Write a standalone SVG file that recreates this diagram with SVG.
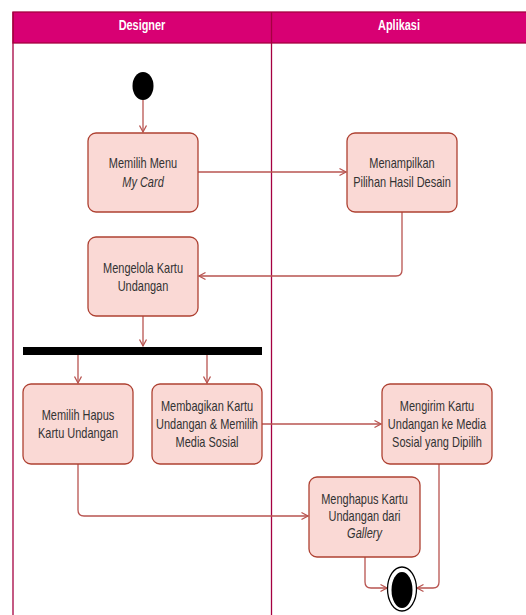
<svg xmlns="http://www.w3.org/2000/svg" width="526" height="615" viewBox="0 0 526 615">
  <style>
    .lane { fill: none; stroke: #a50040; stroke-width: 1.3; }
    .head { fill: #d80073; stroke: #a50040; stroke-width: 1.3; }
    .htxt { font-family: "Liberation Sans", Arial, sans-serif; font-size: 14px; font-weight: bold; fill: #ffffff; text-anchor: middle; }
    .act { fill: #fad9d5; stroke: #ae4132; stroke-width: 1.3; }
    .txt { font-family: "Liberation Sans", Arial, sans-serif; font-size: 14px; fill: #333333; text-anchor: middle; }
    .it { font-style: italic; }
    .edge { fill: none; stroke: #b85450; stroke-width: 1.3; marker-end: url(#open); }
  </style>
  <defs>
    <marker id="open" markerUnits="userSpaceOnUse" markerWidth="10" markerHeight="10" refX="7" refY="4" orient="auto" overflow="visible">
      <path d="M0.5,0.5 L7,4 L0.5,7.5" fill="none" stroke="#b85450" stroke-width="1.3"/>
    </marker>
  </defs>

  <rect width="526" height="615" fill="#ffffff"/>

  <!-- swimlanes -->
  <g id="lanes">
    <rect class="head" x="13" y="12" width="520" height="31"/>
    <line class="lane" x1="13" y1="12" x2="13" y2="615"/>
    <line class="lane" x1="271.5" y1="12" x2="271.5" y2="615"/>
    <text class="htxt" transform="translate(142 29.5) scale(0.78 1)">Designer</text>
    <text class="htxt" transform="translate(399 29.5) scale(0.78 1)">Aplikasi</text>
  </g>

  <!-- connectors -->
  <g id="connectors">
    <path class="edge" d="M143 100 V132"/>
    <path class="edge" d="M198 172 H346"/>
    <path class="edge" d="M402 212 V270 Q402 276 396 276 H199"/>
    <path class="edge" d="M143 316 V346"/>
    <path class="edge" d="M78 355 V383"/>
    <path class="edge" d="M207 355 V383"/>
    <path class="edge" d="M262 424 H381"/>
    <path class="edge" d="M78 464 V510 Q78 516 84 516 H308"/>
    <path class="edge" d="M365 557 V582 Q365 588 371 588 H387"/>
    <path class="edge" d="M439 464 V582 Q439 588 433 588 H417"/>
  </g>

  <g id="start">
    <ellipse cx="143" cy="86" rx="10.5" ry="14" fill="#000000"/>
  </g>

  <g id="pilihMenu">
    <rect class="act" x="88" y="133" width="110" height="79" rx="8"/>
    <text class="txt" transform="translate(143 0) scale(0.785 1)"><tspan x="0" y="168">Memilih Menu</tspan><tspan x="0" y="187" class="it">My Card</tspan></text>
  </g>

  <g id="tampilDesain">
    <rect class="act" x="347" y="133" width="110" height="79" rx="8"/>
    <text class="txt" transform="translate(402 0) scale(0.785 1)"><tspan x="0" y="168">Menampilkan</tspan><tspan x="0" y="187">Pilihan Hasil Desain</tspan></text>
  </g>

  <g id="kelolaKartu">
    <rect class="act" x="88" y="237" width="110" height="79" rx="8"/>
    <text class="txt" transform="translate(143 0) scale(0.785 1)"><tspan x="0" y="273">Mengelola Kartu</tspan><tspan x="0" y="291">Undangan</tspan></text>
  </g>

  <g id="fork">
    <rect x="23" y="347" width="239" height="8" fill="#000000"/>
  </g>

  <g id="pilihHapus">
    <rect class="act" x="23" y="384" width="110" height="80" rx="8"/>
    <text class="txt" transform="translate(78 0) scale(0.785 1)"><tspan x="0" y="420">Memilih Hapus</tspan><tspan x="0" y="438">Kartu Undangan</tspan></text>
  </g>

  <g id="bagikanKartu">
    <rect class="act" x="152" y="384" width="110" height="80" rx="8"/>
    <text class="txt" transform="translate(207 0) scale(0.785 1)"><tspan x="0" y="411.5">Membagikan Kartu</tspan><tspan x="0" y="429.5">Undangan &amp; Memilih</tspan><tspan x="0" y="447.5">Media Sosial</tspan></text>
  </g>

  <g id="kirimKartu">
    <rect class="act" x="382" y="384" width="110" height="80" rx="8"/>
    <text class="txt" transform="translate(437 0) scale(0.785 1)"><tspan x="0" y="411.5">Mengirim Kartu</tspan><tspan x="0" y="429.5">Undangan ke Media</tspan><tspan x="0" y="447.5">Sosial yang Dipilih</tspan></text>
  </g>

  <g id="hapusKartu">
    <rect class="act" x="309" y="477" width="111" height="80" rx="8"/>
    <text class="txt" transform="translate(364.5 0) scale(0.785 1)"><tspan x="0" y="504">Menghapus Kartu</tspan><tspan x="0" y="521">Undangan dari</tspan><tspan x="0" y="538" class="it">Gallery</tspan></text>
  </g>

  <g id="end">
    <ellipse cx="402" cy="589" rx="14.5" ry="22" fill="#ffffff" stroke="#000000" stroke-width="1.3"/>
    <ellipse cx="402" cy="590" rx="10.5" ry="18" fill="#000000"/>
  </g>
</svg>
